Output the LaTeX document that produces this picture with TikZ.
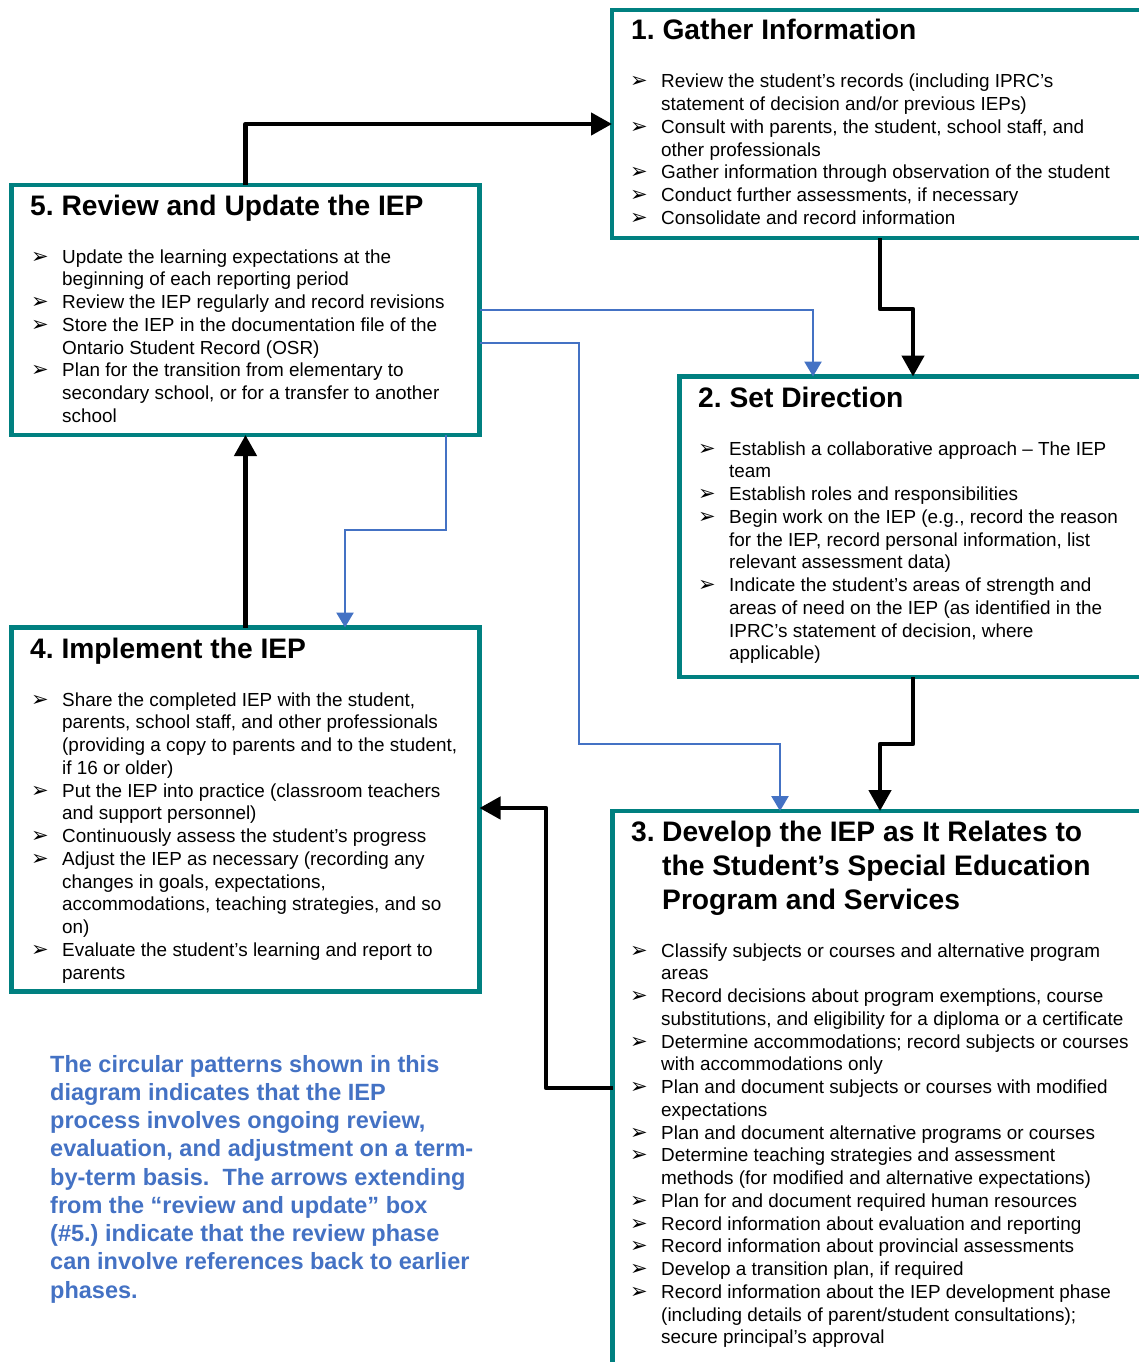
\documentclass[tikz,border=0pt]{standalone}
\usepackage{fontspec}
\setmainfont{Liberation Sans}
\newfontfamily\dingfont{DejaVu Sans}
\usetikzlibrary{calc,arrows.meta}

\definecolor{boxteal}{RGB}{0,128,128}
\definecolor{linkblue}{RGB}{68,114,196}

\newcommand{\bul}{\makebox[31pt][l]{\dingfont\fontsize{21}{21}\selectfont ➢}}
\frenchspacing

\begin{document}
\begin{tikzpicture}[x=1pt,y=-1pt]
  % Definimos los estilos para las cajas, textos y flechas
  \tikzstyle{stepbox} = [draw=boxteal, line width=4.5pt, anchor=north west, inner sep=0pt, outer sep=0pt];
  \tikzstyle{steptitle} = [anchor=base west, inner sep=0pt, font=\bfseries\fontsize{28.2}{34.3}\selectfont];
  \tikzstyle{steplist} = [anchor=base west, inner sep=0pt, font=\fontsize{18.9}{22.75}\selectfont];
  \tikzstyle{flow} = [line width=4.5pt, line join=round, -{Triangle[length=21pt,width=22pt]}];
  \tikzstyle{backlink} = [draw=linkblue, line width=2.5pt, -{Triangle[length=15pt,width=17pt]}];

  % Marco de la imagen
  \clip (0,0) rectangle (1139,1362);
  \fill[white] (0,0) rectangle (1139,1362);

  % Dibujamos las cinco cajas
  \node [stepbox, minimum width=570pt, minimum height=228pt] (gather) at (612,10) {};
  \node [stepbox, minimum width=468pt, minimum height=250pt] (review) at (11.5,185) {};
  \node [stepbox, minimum width=500pt, minimum height=300.5pt] (setdir) at (679.5,376.5) {};
  \node [stepbox, minimum width=468pt, minimum height=364pt] (implement) at (11.5,627.5) {};
  \node [stepbox, minimum width=570pt, minimum height=600pt] (develop) at (612.5,811) {};

  % Caja 1
  \node [steptitle] (gatherT) at (631,40) {1. Gather Information};
  \node [steplist] (gatherL) at (630,88) {\begin{tabular}[t]{@{}l@{}l@{}}
    \bul & Review the student’s records (including IPRC’s\\
         & statement of decision and/or previous IEPs)\\
    \bul & Consult with parents, the student, school staff, and\\
         & other professionals\\
    \bul & Gather information through observation of the student\\
    \bul & Conduct further assessments, if necessary\\
    \bul & Consolidate and record information
  \end{tabular}};

  % Caja 5
  \node [steptitle] (reviewT) at (30,215) {5. Review and Update the IEP};
  \node [steplist] (reviewL) at (31,263) {\begin{tabular}[t]{@{}l@{}l@{}}
    \bul & Update the learning expectations at the\\
         & beginning of each reporting period\\
    \bul & Review the IEP regularly and record revisions\\
    \bul & Store the IEP in the documentation file of the\\
         & Ontario Student Record (OSR)\\
    \bul & Plan for the transition from elementary to\\
         & secondary school, or for a transfer to another\\
         & school
  \end{tabular}};

  % Caja 2
  \node [steptitle] (setdirT) at (698,407) {2. Set Direction};
  \node [steplist] (setdirL) at (698,455) {\begin{tabular}[t]{@{}l@{}l@{}}
    \bul & Establish a collaborative approach – The IEP\\
         & team\\
    \bul & Establish roles and responsibilities\\
    \bul & Begin work on the IEP (e.g., record the reason\\
         & for the IEP, record personal information, list\\
         & relevant assessment data)\\
    \bul & Indicate the student’s areas of strength and\\
         & areas of need on the IEP (as identified in the\\
         & IPRC’s statement of decision, where\\
         & applicable)
  \end{tabular}};

  % Caja 4
  \node [steptitle] (implementT) at (30,658) {4. Implement the IEP};
  \node [steplist] (implementL) at (31,706) {\begin{tabular}[t]{@{}l@{}l@{}}
    \bul & Share the completed IEP with the student,\\
         & parents, school staff, and other professionals\\
         & (providing a copy to parents and to the student,\\
         & if 16 or older)\\
    \bul & Put the IEP into practice (classroom teachers\\
         & and support personnel)\\
    \bul & Continuously assess the student’s progress\\
    \bul & Adjust the IEP as necessary (recording any\\
         & changes in goals, expectations,\\
         & accommodations, teaching strategies, and so\\
         & on)\\
    \bul & Evaluate the student’s learning and report to\\
         & parents
  \end{tabular}};

  % Caja 3
  \node [steptitle] (developT) at (631,841) {\begin{tabular}[t]{@{}p{31pt}@{}l@{}}
    3. & Develop the IEP as It Relates to\\
       & the Student’s Special Education\\
       & Program and Services
  \end{tabular}};
  \node [steplist] (developL) at (630,957) {\begin{tabular}[t]{@{}l@{}l@{}}
    \bul & Classify subjects or courses and alternative program\\
         & areas\\
    \bul & Record decisions about program exemptions, course\\
         & substitutions, and eligibility for a diploma or a certificate\\
    \bul & Determine accommodations; record subjects or courses\\
         & with accommodations only\\
    \bul & Plan and document subjects or courses with modified\\
         & expectations\\
    \bul & Plan and document alternative programs or courses\\
    \bul & Determine teaching strategies and assessment\\
         & methods (for modified and alternative expectations)\\
    \bul & Plan for and document required human resources\\
    \bul & Record information about evaluation and reporting\\
    \bul & Record information about provincial assessments\\
    \bul & Develop a transition plan, if required\\
    \bul & Record information about the IEP development phase\\
         & (including details of parent/student consultations);\\
         & secure principal’s approval
  \end{tabular}};

  % Nota explicativa
  \node [anchor=base west, inner sep=0pt, text=linkblue, font=\bfseries\fontsize{23.5}{28.25}\selectfont] (note) at (50,1072) {\begin{tabular}[t]{@{}l@{}}
    The circular patterns shown in this\\
    diagram indicates that the IEP\\
    process involves ongoing review,\\
    evaluation, and adjustment on a term-\\
    by-term basis.~ The arrows extending\\
    from the “review and update” box\\
    (\#5.) indicate that the review phase\\
    can involve references back to earlier\\
    phases.
  \end{tabular}};

  % Puntos de quiebre de las flechas
  \coordinate (j51) at (245,124);
  \coordinate (j12a) at (880,309);
  \coordinate (j12b) at (913,309);
  \coordinate (j23a) at (913,744);
  \coordinate (j23b) at (880,744);
  \coordinate (j34a) at (546,1088);
  \coordinate (j34b) at (546,808);
  \coordinate (k52) at (813,310);
  \coordinate (k53a) at (579,343);
  \coordinate (k53b) at (579,744);
  \coordinate (k53c) at (780,744);
  \coordinate (k54a) at (446,530);
  \coordinate (k54b) at (345,530);

  % Ciclo principal
  \draw [flow] (review.north) |- (gather.west |- j51);
  \draw [flow] (gather.south -| j12a) -- (j12a) -- (j12b) -- (setdir.north -| j12b);
  \draw [flow] (setdir.south -| j23a) -- (j23a) -- (j23b) -- (develop.north -| j23b);
  \draw [flow] (develop.west |- j34a) -- (j34a) -- (j34b) -- (implement.east |- j34b);
  \draw [flow] (implement.north) -- (review.south);

  % Flechas de retorno desde la caja 5
  \draw [backlink] (review.east |- k52) -- (k52) -- (setdir.north -| k52);
  \draw [backlink] (review.east |- k53a) -- (k53a) -- (k53b) -- (k53c) -- (develop.north -| k53c);
  \draw [backlink] (review.south -| k54a) -- (k54a) -- (k54b) -- (implement.north -| k54b);
\end{tikzpicture}
\end{document}
